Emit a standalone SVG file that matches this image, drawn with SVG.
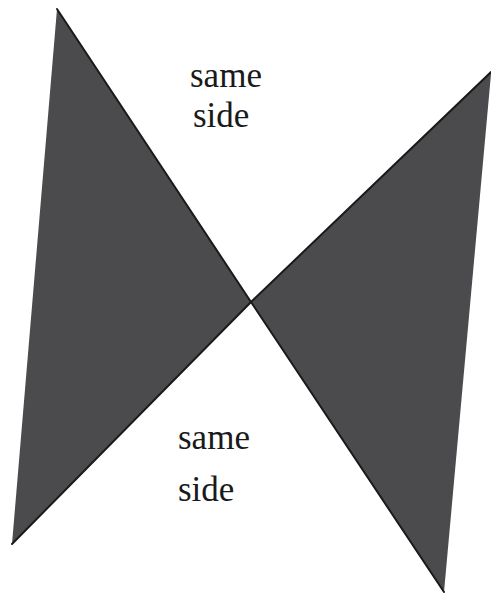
<svg xmlns="http://www.w3.org/2000/svg" width="491" height="593" viewBox="0 0 491 593">
<style>
.fill{fill:#4b4b4d;stroke:none}
.edge{stroke:#1a1a1a;stroke-width:2;fill:none;stroke-linecap:round}
.lbl{font-family:"Liberation Serif","Times New Roman",serif;font-size:35px;fill:#1a1a1a}
</style>
<g id="left-triangle"><polygon class="fill" points="57,9 251,302 12,544"/></g>
<g id="right-triangle"><polygon class="fill" points="251,302 491,72 491,74 444,592"/></g>
<g id="connectors">
<polyline class="edge" points="57,9 251,302 444,592"/>
<polyline class="edge" points="12,544 251,302 491,72"/>
</g>
<g id="label-top"><text class="lbl" x="190" y="87">same</text><text class="lbl" x="193" y="127">side</text></g>
<g id="label-bottom"><text class="lbl" x="178" y="449">same</text><text class="lbl" x="178" y="501">side</text></g>
</svg>
